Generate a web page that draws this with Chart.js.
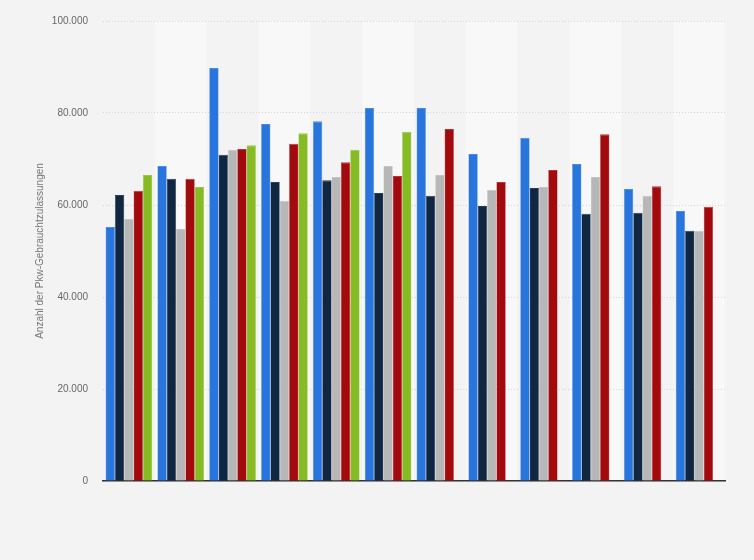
<!DOCTYPE html>
<html>
<head>
<meta charset="utf-8">
<script src="https://cdn.jsdelivr.net/npm/chart.js@4"></script>
<style>
html,body{margin:0;padding:0;background:#f3f3f3}
#wrap{width:754px;height:560px;position:relative}
</style>
</head>
<body>
<div id="wrap"><canvas id="c"></canvas></div>
<script>
const months = ["Jan","Feb","Mär","Apr","Mai","Jun","Jul","Aug","Sep","Okt","Nov","Dez"]
const blue  = [55200,68500,89800,77600,78200,81100,81100,71100,74600,68900,63500,58700]
const navy  = [62200,65700,70900,65000,65400,62600,62000,59800,63700,58100,58300,54400]
const gray  = [57000,54800,72000,60900,66100,68500,66500,63300,63900,66100,62000,54400]
const red   = [63100,65700,72200,73300,69300,66300,76500,65000,67600,75400,64100,59600]
const green = [66500,63900,73000,75600,72000,75900,null,null,null,null,null,null]
const yTicks = [0,20000,40000,60000,80000,100000]

function ds(label,data,color,edge){
return {label:label,data:data,backgroundColor:color,borderColor:edge,borderWidth:{top:1,left:0.5,right:0.5,bottom:0},borderSkipped:"bottom"}
}

// alternating column stripes behind the bars
const stripes = {
id:"stripes",
beforeDraw(chart){
const ctx = chart.ctx, x = chart.scales.x, area = chart.chartArea
const w = (area.right-area.left)/months.length
ctx.save()
ctx.fillStyle = "#f8f8f8"
for(let i=1;i<months.length;i+=2){
const cx = x.getPixelForValue(i)
ctx.fillRect(cx-w/2,area.top,w,area.bottom-area.top)
}
ctx.restore()
}
}

new Chart(document.getElementById("c"),{
type:"bar",
data:{
labels:months,
datasets:[
ds("Blau",blue,"#2876dd","#4a8ce3"),
ds("Navy",navy,"#0f2741","#2a3e55"),
ds("Grau",gray,"#b7b7b7","#c4c4c4"),
ds("Rot",red,"#a30a0e","#b43538"),
ds("Grün",green,"#87bb24","#98c548")
]
},
plugins:[stripes],
options:{
responsive:true,
maintainAspectRatio:false,
animation:false,
layout:{padding:{left:34,right:29,top:20,bottom:79}},
plugins:{legend:{display:false},tooltip:{enabled:false}},
datasets:{bar:{categoryPercentage:0.9,barPercentage:1.0}},
scales:{
x:{
ticks:{display:false},
grid:{display:false},
afterFit(s){s.height = 0},
border:{display:true,color:"#333",width:1.5}
},
y:{
min:0,max:100000,
afterBuildTicks(s){s.ticks = yTicks.map(v=>({value:v}))},
afterFit(s){s.width = 69},
ticks:{
padding:15,
color:"#666",
font:{family:"Liberation Sans, Arial",size:10},
callback:v=>v.toLocaleString("de-DE")
},
grid:{color:"#d6d6d6",lineWidth:1,drawTicks:false},
border:{display:false,dash:[1,2]},
title:{
display:true,
text:"Anzahl der Pkw-Gebrauchtzulassungen",
color:"#777",
font:{family:"Liberation Sans, Arial",size:10},
padding:{top:0,bottom:0}
}
}
}
}
})
</script>
</body>
</html>
